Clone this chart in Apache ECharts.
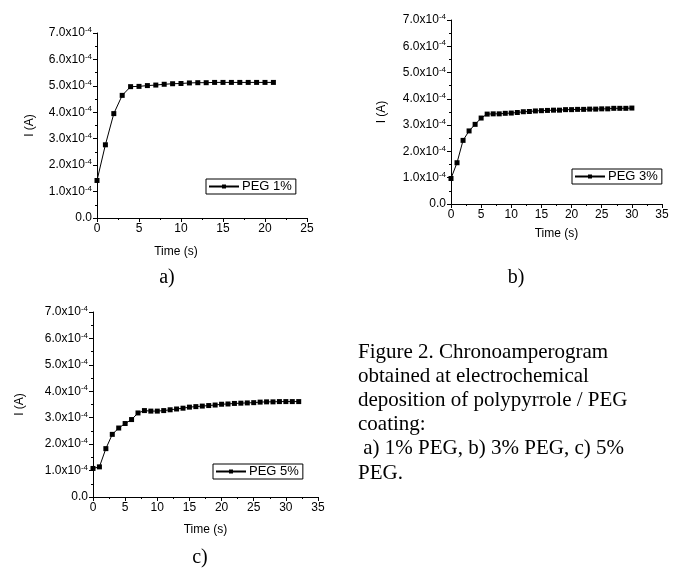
<!DOCTYPE html>
<html>
<head>
<meta charset="utf-8">
<script src="https://cdn.jsdelivr.net/npm/echarts@6/dist/echarts.min.js"></script>
<style>
html,body{margin:0;padding:0;background:#fff;}
#chart{width:681px;height:568px;}
</style>
</head>
<body>
<div id="chart"></div>
<script>
// Time (s)
const timeA = [0,1,2,3,4,5,6,7,8,9,10,11,12,13,14,15,16,17,18,19,20,21];
const timeB = [0,1,2,3,4,5,6,7,8,9,10,11,12,13,14,15,16,17,18,19,20,21,22,23,24,25,26,27,28,29,30];
const timeC = [0,1,2,3,4,5,6,7,8,9,10,11,12,13,14,15,16,17,18,19,20,21,22,23,24,25,26,27,28,29,30,31,32];
// Current, in units of 1e-4 A
const currentA = [1.42,2.77,3.95,4.64,4.97,4.98,5.01,5.03,5.06,5.08,5.09,5.11,5.12,5.12,5.13,5.13,5.13,5.13,5.13,5.13,5.13,5.13];
const currentB = [0.97,1.57,2.42,2.78,3.03,3.27,3.42,3.43,3.43,3.45,3.46,3.48,3.51,3.52,3.54,3.55,3.56,3.57,3.57,3.59,3.59,3.60,3.60,3.61,3.61,3.62,3.62,3.64,3.64,3.64,3.65];
const currentC = [1.08,1.14,1.83,2.37,2.61,2.78,2.93,3.18,3.27,3.25,3.25,3.27,3.30,3.33,3.36,3.40,3.42,3.44,3.46,3.48,3.51,3.52,3.54,3.55,3.56,3.57,3.59,3.60,3.60,3.61,3.61,3.61,3.61];
const scale = 1e-4;
const seriesNames = ['PEG 1%','PEG 3%','PEG 5%'];
const legendLabels = ['PEG 1%','PEG 3%','PEG 5%'];
const yTicks = [0,1,2,3,4,5,6,7];
const xMaxes = [25,35,35];
const panelLabels = ['a)','b)','c)'];
const captionLines = ['Figure 2. Chronoamperogram','obtained at electrochemical','deposition of polypyrrole / PEG','coating:',' a) 1% PEG, b) 3% PEG, c) 5%','PEG.'];

const chart = echarts.init(document.getElementById('chart'), null, {renderer:'canvas'});
const FONT = '"Liberation Sans", Arial, sans-serif';
const SERIF = '"Liberation Serif", "Times New Roman", serif';

const grids = [
  {left:97, top:33, width:210, height:185},
  {left:451, top:20, width:211, height:184},
  {left:93, top:312, width:225, height:185}
];
const yNameGaps = [61, 63, 67];
const xNameGaps = [28, 24, 27];
const xNamePad = [[0,52,0,0],[0,0,0,0],[0,0,0,0]];

function yLabel(v){
  const n = Math.round(v/scale*10)/10;
  if (n === 0) return '{a|0.0}';
  return '{a|' + n.toFixed(1) + 'x10}{s|-4}';
}

const xAxes = grids.map((g,i)=>({
  type:'value', gridIndex:i, min:0, max:xMaxes[i], interval:5,
  name:'Time (s)', nameLocation:'middle', nameGap:xNameGaps[i],
  nameTextStyle:{fontFamily:FONT, fontSize:12, color:'#000', padding:xNamePad[i]},
  axisLine:{show:true, onZero:false, lineStyle:{color:'#000', width:1}},
  axisTick:{show:true, inside:false, length:4, lineStyle:{color:'#000'}},
  minorTick:{show:true, splitNumber:2, length:2, lineStyle:{color:'#000'}},
  axisLabel:{fontFamily:FONT, fontSize:12, color:'#000', margin:5, showMaxLabel:true, showMinLabel:true},
  splitLine:{show:false}
}));
const yAxes = grids.map((g,i)=>({
  type:'value', gridIndex:i, min:yTicks[0]*scale, max:yTicks[yTicks.length-1]*scale, interval:scale,
  name:'I (A)', nameLocation:'middle', nameGap:yNameGaps[i], nameRotate:90,
  nameTextStyle:{fontFamily:FONT, fontSize:12, color:'#000'},
  axisLine:{show:true, onZero:false, lineStyle:{color:'#000', width:1}},
  axisTick:{show:true, inside:false, length:4, lineStyle:{color:'#000'}},
  minorTick:{show:true, splitNumber:2, length:2, lineStyle:{color:'#000'}},
  axisLabel:{
    margin:5, formatter:yLabel,
    rich:{
      a:{fontFamily:FONT, fontSize:12, color:'#000', lineHeight:14},
      s:{fontFamily:FONT, fontSize:8, color:'#000', verticalAlign:'top', lineHeight:14, padding:[0,0,6,0]}
    }
  },
  splitLine:{show:false}
}));

const times = [timeA,timeB,timeC];
const currents = [currentA,currentB,currentC];
const series = times.map((t,i)=>({
  type:'line', name:seriesNames[i], xAxisIndex:i, yAxisIndex:i,
  data:t.map((x,j)=>[x, currents[i][j]*scale]),
  symbol:'rect', symbolSize:5, showSymbol:true,
  lineStyle:{color:'#000', width:1},
  itemStyle:{color:'#000'},
  animation:false
}));

const legendPos = [{left:206, top:179},{left:572, top:169},{left:213, top:464}];
const legends = legendPos.map((p,i)=>({
  show:true, data:[seriesNames[i]], left:p.left, top:p.top,
  orient:'horizontal', borderColor:'#000', borderWidth:1, borderRadius:0,
  padding:[1,4,1,2], itemWidth:30, itemHeight:5, itemGap:0,
  formatter:()=>legendLabels[i],
  textStyle:{fontFamily:FONT, fontSize:13, color:'#000', padding:[0,0,0,-2]},
  selectedMode:false
}));

const labelPos = [[167,278],[516,278],[200,558]];
const graphics = panelLabels.map((s,i)=>({
  type:'text', x:labelPos[i][0], y:labelPos[i][1],
  style:{text:s, fontFamily:SERIF, fontSize:20, fill:'#000', align:'center', verticalAlign:'middle'}
}));
graphics.push({
  type:'text', x:358, y:340,
  style:{text:captionLines.join('\n'), fontFamily:SERIF, fontSize:21, lineHeight:24.2, fill:'#000', align:'left', verticalAlign:'top'}
});

chart.setOption({
  animation:false,
  backgroundColor:'#fff',
  grid:grids,
  xAxis:xAxes,
  yAxis:yAxes,
  legend:legends,
  series:series,
  graphic:graphics
});
</script>
</body>
</html>
